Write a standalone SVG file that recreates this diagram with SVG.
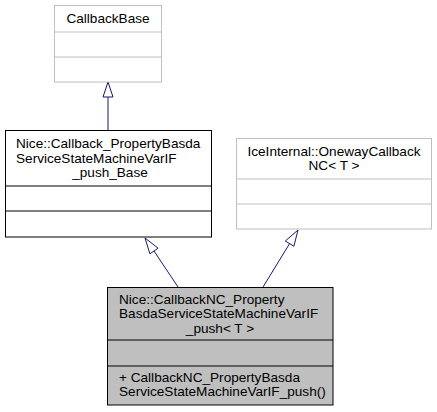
<svg xmlns="http://www.w3.org/2000/svg" width="437" height="412" viewBox="0 0 437 412">
<style>
text{font-family:"Liberation Sans",Arial,sans-serif;font-size:13.6px;fill:#000}
.c{text-anchor:middle}
.ext{fill:#fff;stroke:#bfbfbf;stroke-width:1}
.cls{fill:#fff;stroke:#000;stroke-width:1}
.cur{fill:#bfbfbf;stroke:#000;stroke-width:1}
.edge{fill:none;stroke:#191970;stroke-width:1}
.head{fill:#fff;stroke:#191970;stroke-width:1}
</style>
<g id="edges">
<path class="edge" d="M108,130 L108,97"/>
<polygon class="head" points="108,82 103,97 113,97"/>
<path class="edge" d="M178,287 L154,251"/>
<polygon class="head" points="145,238 149.9,253.8 158.1,248.2"/>
<path class="edge" d="M263,287 L289.6,243.6"/>
<polygon class="head" points="298,230 285.3,241 293.9,246.2"/>
</g>
<g id="node-CallbackBase">
<rect class="ext" x="54.5" y="5.5" width="107" height="76.5"/>
<path class="ext" d="M54.5,32 H161.5 M54.5,57 H161.5"/>
<text class="c" x="108" y="23">CallbackBase</text>
</g>
<g id="node-Base">
<rect class="cls" x="5.5" y="130.5" width="206" height="106.5"/>
<path class="cls" d="M5.5,186 H211.5 M5.5,211 H211.5"/>
<text x="16" y="148">Nice::Callback_PropertyBasda</text>
<text x="16" y="162.5">ServiceStateMachineVarIF</text>
<text class="c" x="110" y="177">_push_Base</text>
</g>
<g id="node-OnewayCallbackNC">
<rect class="ext" x="236.5" y="138.5" width="195" height="90.5"/>
<path class="ext" d="M236.5,179 H431.5 M236.5,204 H431.5"/>
<text class="c" x="334" y="155.75">IceInternal::OnewayCallback</text>
<text class="c" x="334" y="170.25">NC&lt; T &gt;</text>
</g>
<g id="node-CallbackNC">
<rect class="cur" x="107.5" y="287.5" width="225.5" height="117.5"/>
<path class="cur" d="M107.5,340 H333 M107.5,366 H333"/>
<text x="119" y="303.5">Nice::CallbackNC_Property</text>
<text x="119" y="318">BasdaServiceStateMachineVarIF</text>
<text class="c" x="220" y="332.5">_push&lt; T &gt;</text>
<text x="119" y="381.5">+ CallbackNC_PropertyBasda</text>
<text x="119" y="396">ServiceStateMachineVarIF_push()</text>
</g>
</svg>
